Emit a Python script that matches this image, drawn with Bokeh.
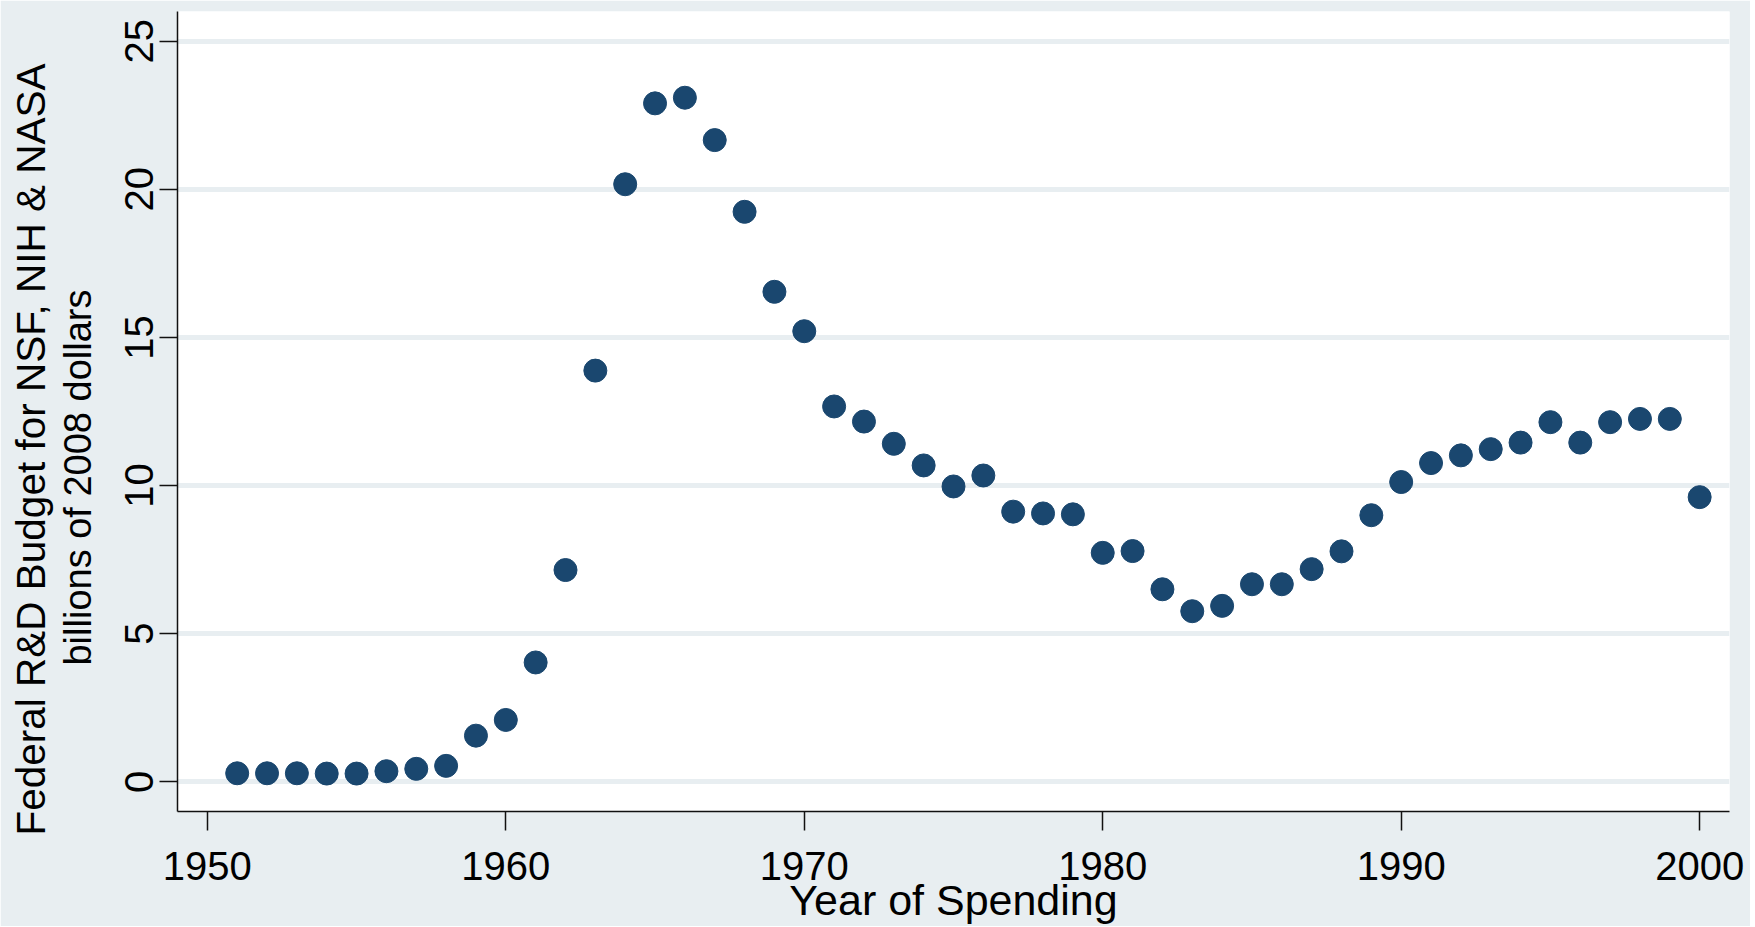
from bokeh.plotting import figure
from bokeh.models import Range1d, FixedTicker, Title
from bokeh.embed import file_html
from bokeh.resources import INLINE

# ---- data ----
years = list(range(1951, 2001))
budget = [0.29, 0.29, 0.29, 0.28, 0.28, 0.36, 0.44, 0.54, 1.56, 2.09,
          4.03, 7.15, 13.88, 20.17, 22.90, 23.09, 21.66, 19.24, 16.54, 15.21,
          12.67, 12.16, 11.41, 10.68, 9.97, 10.34, 9.12, 9.06, 9.03, 7.73,
          7.79, 6.50, 5.76, 5.94, 6.67, 6.67, 7.18, 7.78, 9.00, 10.12,
          10.76, 11.02, 11.23, 11.45, 12.14, 11.45, 12.14, 12.25, 12.25, 9.61]
x_ticks = [1950, 1960, 1970, 1980, 1990, 2000]
y_ticks = [0, 5, 10, 15, 20, 25]
x_title = "Year of Spending"
y_title_1 = "Federal R&D Budget for NSF, NIH & NASA"
y_title_2 = "billions of 2008 dollars"

BG = "#e8eef1"
NAVY = "#1a476f"
FONT = "Liberation Sans"

p = figure(frame_width=1552, frame_height=800,
           min_border_left=177, min_border_right=21,
           min_border_top=11, min_border_bottom=112,
           x_range=Range1d(1949, 2001), y_range=Range1d(-1, 26),
           output_backend="svg", toolbar_location=None)

p.background_fill_color = "white"
p.border_fill_color = BG
p.outline_line_color = None

p.scatter(years, budget, size=23, color=NAVY, line_color=NAVY)

for ax in (p.xaxis, p.yaxis):
    ax.axis_line_color = "#111111"
    ax.axis_line_width = 1.5
    ax.major_tick_line_color = "#111111"
    ax.major_tick_line_width = 1.5
    ax.major_tick_in = 0
    ax.minor_tick_line_color = None
    ax.major_label_text_font = FONT
    ax.major_label_text_font_size = "40px"
    ax.major_label_text_color = "black"

p.xaxis.ticker = FixedTicker(ticks=x_ticks)
p.yaxis.ticker = FixedTicker(ticks=y_ticks)
p.xaxis.major_tick_out = 19
p.yaxis.major_tick_out = 18
p.xaxis.major_label_standoff = 21
p.yaxis.major_label_standoff = 6
p.yaxis.major_label_orientation = "vertical"

p.xaxis.axis_label = x_title
p.xaxis.axis_label_text_font = FONT
p.xaxis.axis_label_text_font_size = "43px"
p.xaxis.axis_label_text_font_style = "normal"
p.xaxis.axis_label_text_color = "black"
p.xaxis.axis_label_standoff = -7

p.xgrid.grid_line_color = None
p.ygrid.grid_line_color = BG
p.ygrid.grid_line_width = 5

t2 = Title(text=y_title_2, align="right", offset=278, standoff=47,
           text_font=FONT, text_font_size="38px", text_font_style="normal",
           text_color="black")
t1 = Title(text=y_title_1, align="right", offset=52, standoff=-44,
           text_font=FONT, text_font_size="40.5px", text_font_style="normal",
           text_color="black")
p.add_layout(t2, "left")
p.add_layout(t1, "left")

open("out.html", "w").write(file_html(p, INLINE))
